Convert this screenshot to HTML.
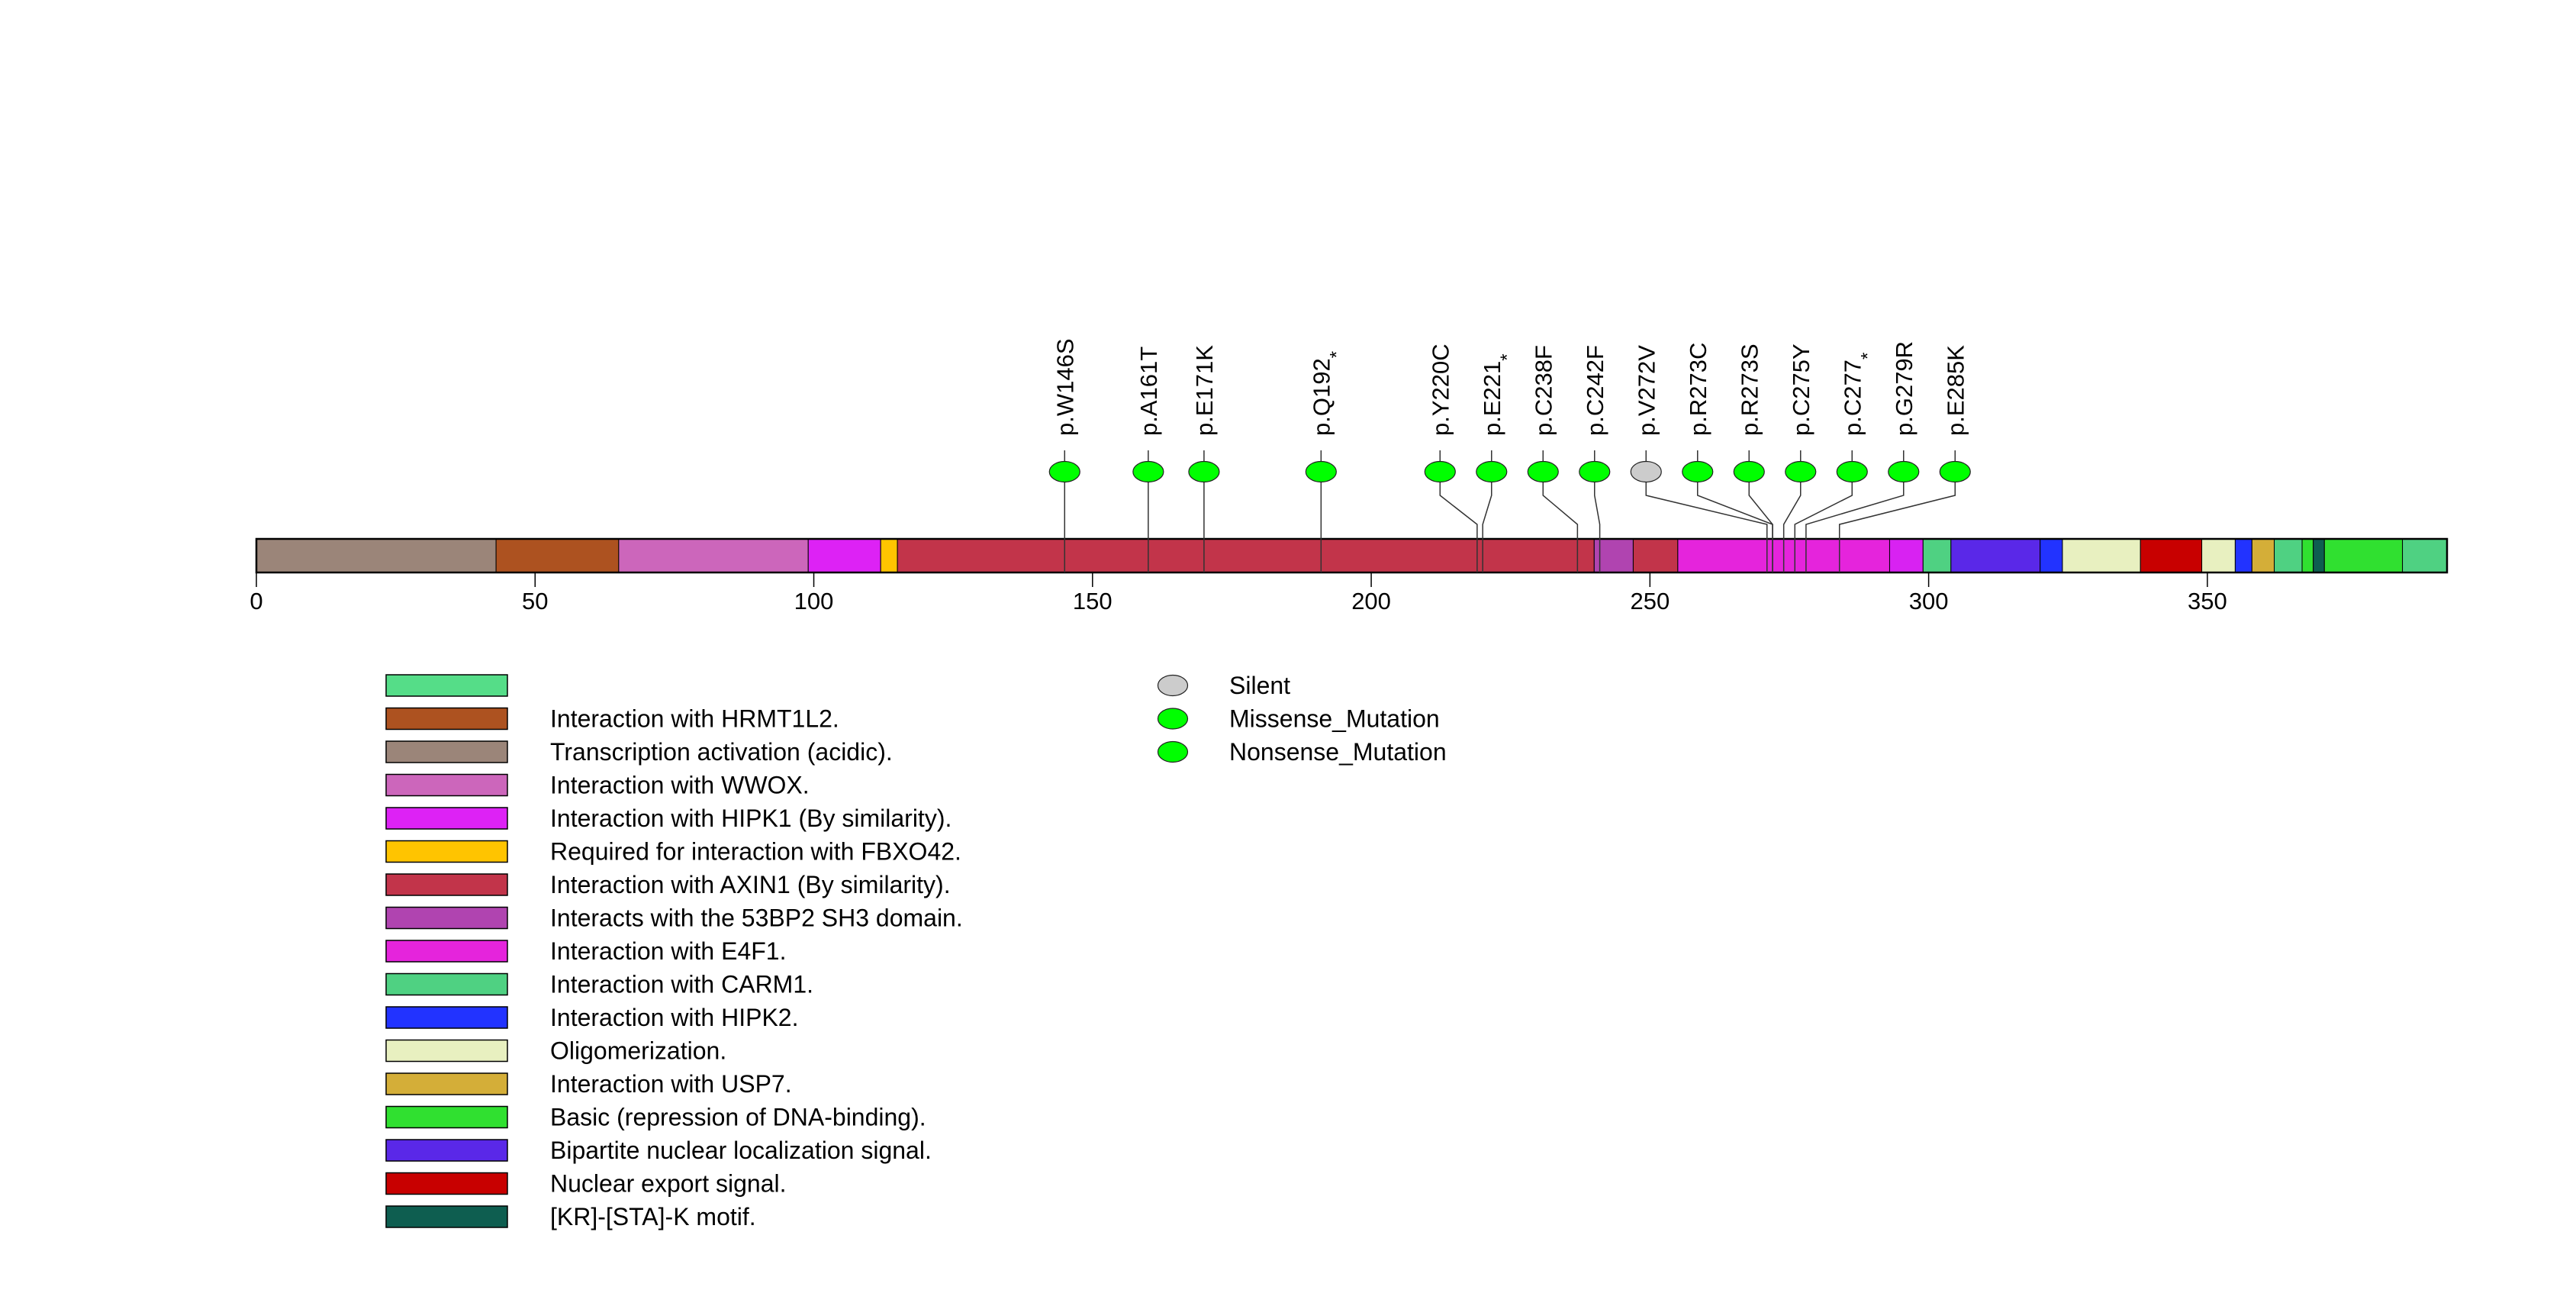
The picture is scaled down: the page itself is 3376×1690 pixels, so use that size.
<!DOCTYPE html>
<html><head><meta charset="utf-8"><style>
html,body{margin:0;padding:0;background:#fff;}
svg{display:block;font-family:"Liberation Sans",sans-serif;}
</style></head><body>
<svg id="chart" width="3376" height="1690" viewBox="0 0 3376 1690" xmlns="http://www.w3.org/2000/svg">
<rect width="3376" height="1690" fill="#fff"/>
<g id="domains"></g>
<g id="axis"></g>
<g id="muts"></g>
<g id="legend"></g>
<g id="legend2"></g>
</svg>
<script>
const proteinLength = 393;
const tickValues = [0, 50, 100, 150, 200, 250, 300, 350];
const segStart = [0, 43, 65, 99, 112, 115, 240, 247, 255, 293, 299, 304, 320, 324, 338, 349, 355, 358, 362, 367, 369, 371, 385];
const segEnd   = [43, 65, 99, 112, 115, 240, 247, 255, 293, 299, 304, 320, 324, 338, 349, 355, 358, 362, 367, 369, 371, 385, 393];
const segColor = ["#9b8579","#ad5220","#cc66bb","#dd22f5","#ffc400","#c2344a","#b044b0","#c2344a","#e524dc","#d822f2","#4fd182","#5a28e8","#2233ff","#e8f0c0","#c80000","#e8f0c0","#2233ff","#d4ae38","#4fd182","#30e030","#0e5e50","#30e030","#4fd182"];
const mutPos = [146, 161, 171, 192, 220, 221, 238, 242, 272, 273, 273, 275, 277, 279, 285];
const mutLabel = ["p.W146S","p.A161T","p.E171K","p.Q192","p.Y220C","p.E221","p.C238F","p.C242F","p.V272V","p.R273C","p.R273S","p.C275Y","p.C277","p.G279R","p.E285K"];
const mutStar = [false,false,false,true,false,true,false,false,false,false,false,false,true,false,false];
const mutType = ["Missense","Missense","Missense","Nonsense","Missense","Nonsense","Missense","Missense","Silent","Missense","Missense","Missense","Nonsense","Missense","Missense"];
const legendColors = ["#55dd88","#ad5220","#9b8579","#cc66bb","#dd22f5","#ffc400","#c2344a","#b044b0","#e524dc","#4fd182","#2233ff","#e8f0c0","#d4ae38","#30e030","#5a28e8","#c80000","#0e5e50"];
const legendLabels = ["","Interaction with HRMT1L2.","Transcription activation (acidic).","Interaction with WWOX.","Interaction with HIPK1 (By similarity).","Required for interaction with FBXO42.","Interaction with AXIN1 (By similarity).","Interacts with the 53BP2 SH3 domain.","Interaction with E4F1.","Interaction with CARM1.","Interaction with HIPK2.","Oligomerization.","Interaction with USP7.","Basic (repression of DNA-binding).","Bipartite nuclear localization signal.","Nuclear export signal.","[KR]-[STA]-K motif."];
const typeNames = ["Silent","Missense_Mutation","Nonsense_Mutation"];
const typeColors = ["#cccccc","#00ff00","#00ff00"];

const NS = "http://www.w3.org/2000/svg";
const X0 = 336, X1 = 3207;
const xs = v => X0 + (X1 - X0) * v / proteinLength;
const mx = p => xs(p - 1);
const BAR_T = 706, BAR_B = 750;
function mk(tag, attrs, parent) { const e = document.createElementNS(NS, tag); for (const k in attrs) e.setAttribute(k, attrs[k]); parent.appendChild(e); return e; }

const gd = document.getElementById('domains');
for (let i = 0; i < segStart.length; i++) {
  const r = mk('rect', {x: xs(segStart[i]), y: BAR_T, width: xs(segEnd[i]) - xs(segStart[i]), height: BAR_B - BAR_T, fill: segColor[i], stroke: '#000', 'stroke-width': 1}, gd);
  
  
}
const outline = mk('rect', {x: xs(0), y: BAR_T, width: xs(proteinLength) - xs(0), height: BAR_B - BAR_T, fill: 'none', stroke: '#000', 'stroke-width': 2.5}, gd);



const ga = document.getElementById('axis');
tickValues.forEach(v => {
  const t = mk('line', {x1: xs(v), x2: xs(v), y1: BAR_B, y2: 769, stroke: '#000', 'stroke-width': 1.5}, ga);
  
  
  const l = mk('text', {x: xs(v), y: 798, 'text-anchor': 'middle', 'font-size': 31, fill: '#000'}, ga);
  l.textContent = v;
  
  
});

// label layout: spread overlapping labels, centered on their mean
const SP = 67.5;
let groups = mutPos.map((p, i) => ({idx: [i]}));
function place(g) { const m = g.idx.reduce((s, i) => s + mx(mutPos[i]), 0) / g.idx.length; g.start = m - SP * (g.idx.length - 1) / 2; }
groups.forEach(place);
let changed = true;
while (changed) {
  changed = false;
  for (let k = 0; k < groups.length - 1; k++) {
    const a = groups[k], b = groups[k + 1];
    if (a.start + SP * (a.idx.length - 1) + SP > b.start + 0.01) {
      a.idx = a.idx.concat(b.idx); place(a); groups.splice(k + 1, 1); changed = true; break;
    }
  }
}
const labelX = [];
groups.forEach(g => g.idx.forEach((i, j) => labelX[i] = g.start + SP * j));

const gm = document.getElementById('muts');
for (let i = 0; i < mutPos.length; i++) {
  const lx = labelX[i], px = mx(mutPos[i]);
  const path = mk('polyline', {points: `${lx},590 ${lx},649 ${px},687 ${px},${BAR_B}`, fill: 'none', stroke: '#333', 'stroke-width': 1.5}, gm);
  
  
  const c = mk('ellipse', {cx: lx, cy: 618, rx: 20, ry: 13.5, fill: mutType[i] === 'Silent' ? '#cccccc' : '#00ff00', stroke: '#222', 'stroke-width': 1.2}, gm);
  
  
  const t = mk('text', {x: lx + 11, y: 571, 'font-size': 31, fill: '#000', transform: `rotate(-90 ${lx + 11} 571)`}, gm);
  t.textContent = mutLabel[i];
  if (mutStar[i]) { const s = mk('tspan', {dy: 17, 'font-size': 24}, t); s.textContent = '*'; }
  
  
}

const gl = document.getElementById('legend');
for (let i = 0; i < legendColors.length; i++) {
  const cy = 898 + 43.5 * i;
  const r = mk('rect', {x: 506, y: cy - 14, width: 159, height: 28, fill: legendColors[i], stroke: '#000', 'stroke-width': 1.5}, gl);
  
  
  if (legendLabels[i]) {
    const t = mk('text', {x: 721, y: cy + 11, 'font-size': 32, fill: '#000'}, gl);
    t.textContent = legendLabels[i];
    
    
  }
}
const gl2 = document.getElementById('legend2');
for (let i = 0; i < typeNames.length; i++) {
  const cy = 898 + 43.5 * i;
  const e = mk('ellipse', {cx: 1537, cy: cy, rx: 19.5, ry: 13.5, fill: typeColors[i], stroke: '#222', 'stroke-width': 1.2}, gl2);
  
  
  const t = mk('text', {x: 1611, y: cy + 11, 'font-size': 32, fill: '#000'}, gl2);
  t.textContent = typeNames[i];
  
  
}
</script>
</body></html>
